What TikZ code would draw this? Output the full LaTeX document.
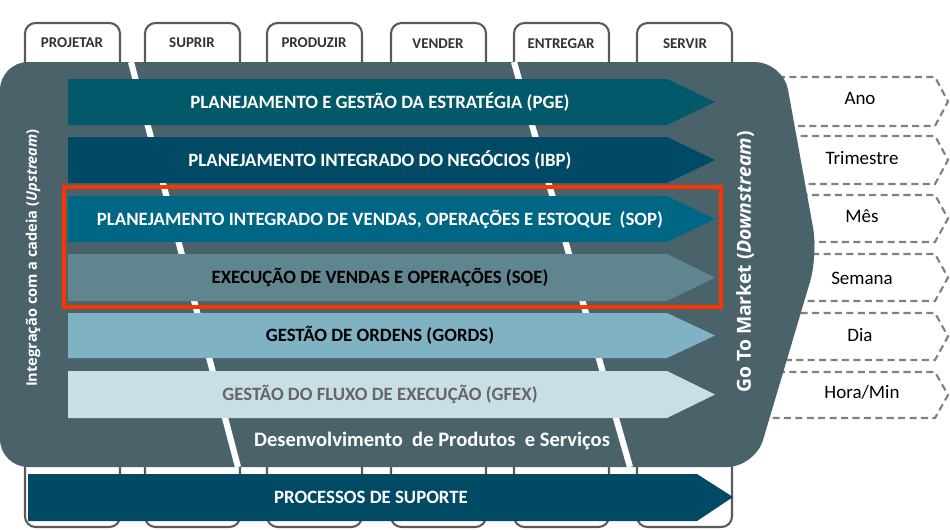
\documentclass[tikz,border=0pt]{standalone}
\usepackage{fontspec}
\setmainfont{Carlito}
\newfontfamily\vfont{Open Sans}
\definecolor{slate}{HTML}{4A636B}
\definecolor{cA}{HTML}{01596A}
\definecolor{cB}{HTML}{004A66}
\definecolor{cC}{HTML}{006685}
\definecolor{cD}{HTML}{5F858F}
\definecolor{cE}{HTML}{7FB2C3}
\definecolor{cF}{HTML}{C9DFE6}
\definecolor{redbox}{HTML}{FF3300}
\definecolor{tabline}{HTML}{5A5A5A}
\definecolor{dashc}{HTML}{808080}
\newcommand{\chevbar}[4]{% x1, ytop, ybot, colour ; straight end 667 tip 715
  \fill[#4] (#1,#2) -- (667,#2) -- (715,{(#2+#3)/2}) -- (667,#3) -- (#1,#3) -- cycle;}
\newcommand{\dashchev}[2]{%
  \draw[dashc,line width=1.2pt,dash pattern=on 4pt off 2.5pt] (755,#1) -- (935,#1) -- (948,{(#1+#2)/2}) -- (935,#2) -- (755,#2);}
\begin{document}
\begin{tikzpicture}[x=0.02cm,y=-0.02cm,
  tabbox/.style={draw=tabline,line width=1.2pt,fill=white,rounded corners=6pt},
  tablabel/.style={font=\bfseries\fontsize{8.5}{9}\selectfont,text=black!80},
  barlabel/.style={font=\bfseries\fontsize{10.7}{12}\selectfont},
  timelabel/.style={font=\fontsize{10.8}{12}\selectfont},
  vlabel/.style={font=\vfont\bfseries,text=white,rotate=90}]
\useasboundingbox (0,0) rectangle (950,529);
% bottom tabs
\foreach \a/\b in {25/120,145/240,267/362,391/486,514/609,637/732}{
  \draw[tabbox] (\a,440) -- (\a,527) -- (\b,527) -- (\b,440);}
% top tabs
\foreach \a/\b in {25/120,145/240,267/362,391/486,514/609,637/732}{
  \draw[tabbox] (\a,80) -- (\a,23) -- (\b,23) -- (\b,80);}
\node[tablabel] (t1) at (72,43) {PROJETAR};
\node[tablabel] (t2) at (192,43) {SUPRIR};
\node[tablabel] (t3) at (314,43) {PRODUZIR};
\node[tablabel] (t4) at (438,44) {VENDER};
\node[tablabel] (t5) at (561,44) {ENTREGAR};
\node[tablabel] (t6) at (685,44) {SERVIR};
% dashed time chevrons
\dashchev{77}{126}
\dashchev{136}{184}
\dashchev{195}{242}
\dashchev{254}{301}
\dashchev{313}{360}
\dashchev{372}{418}
\node[timelabel] (m1) at (860,98) {Ano};
\node[timelabel] (m2) at (862,158) {Trimestre};
\node[timelabel] (m3) at (862,216) {Mês};
\node[timelabel] (m4) at (862,278) {Semana};
\node[timelabel] (m5) at (860,335) {Dia};
\node[timelabel] (m6) at (862,392) {Hora/Min};
% main shape
\fill[slate,rounded corners=16pt] (0,62) -- (783,62) -- (818,255) -- (755,467) -- (0,467) -- cycle;
% white stripes
\draw[white,line width=3.5pt] (131,62) -- (238,467);
\draw[white,line width=3.5pt] (514,62) -- (630,467);
% bars
\chevbar{68}{79}{125}{cA}
\chevbar{68}{137}{183}{cB}
\chevbar{68}{196}{242}{cC}
\chevbar{68}{254}{301}{cD}
\chevbar{68}{313}{358}{cE}
\chevbar{68}{371}{418}{cF}
\node[barlabel,text=white] (b1) at (380,102) {PLANEJAMENTO E GESTÃO DA ESTRATÉGIA (PGE)};
\node[barlabel,text=white] (b2) at (380,160) {PLANEJAMENTO INTEGRADO DO NEGÓCIOS (IBP)};
\node[barlabel,text=white] (b3) at (380,219) {PLANEJAMENTO INTEGRADO DE VENDAS, OPERAÇÕES E ESTOQUE\ \ (SOP)};
\node[barlabel,text=black] (b4) at (380,277) {EXECUÇÃO DE VENDAS E OPERAÇÕES (SOE)};
\node[barlabel,text=black] (b5) at (380,335) {GESTÃO DE ORDENS (GORDS)};
\node[barlabel,text=black!60] (b6) at (380,394) {GESTÃO DO FLUXO DE EXECUÇÃO (GFEX)};
% red frame
\draw[redbox,line width=2.3pt] (64,187) rectangle (721,307);
% bottom bar
\fill[cB] (28,474) -- (697,474) -- (733,497) -- (697,521) -- (28,521) -- cycle;
\node[barlabel,text=white] (b7) at (371,497) {PROCESSOS DE SUPORTE};
% other labels
\node[font=\bfseries\fontsize{11.7}{13}\selectfont,text=white] (dev) at (432,441) {Desenvolvimento\ \ de Produtos\ \ e Serviços};
\node[vlabel,font=\vfont\bfseries\fontsize{8.3}{10}\selectfont] (up) at (33,258) {Integração com a cadeia (\textit{Upstream})};
\node[vlabel,font=\vfont\bfseries\fontsize{11}{12}\selectfont] (down) at (745,262) {Go To Market (\textit{Downstream})};
\end{tikzpicture}
\end{document}
